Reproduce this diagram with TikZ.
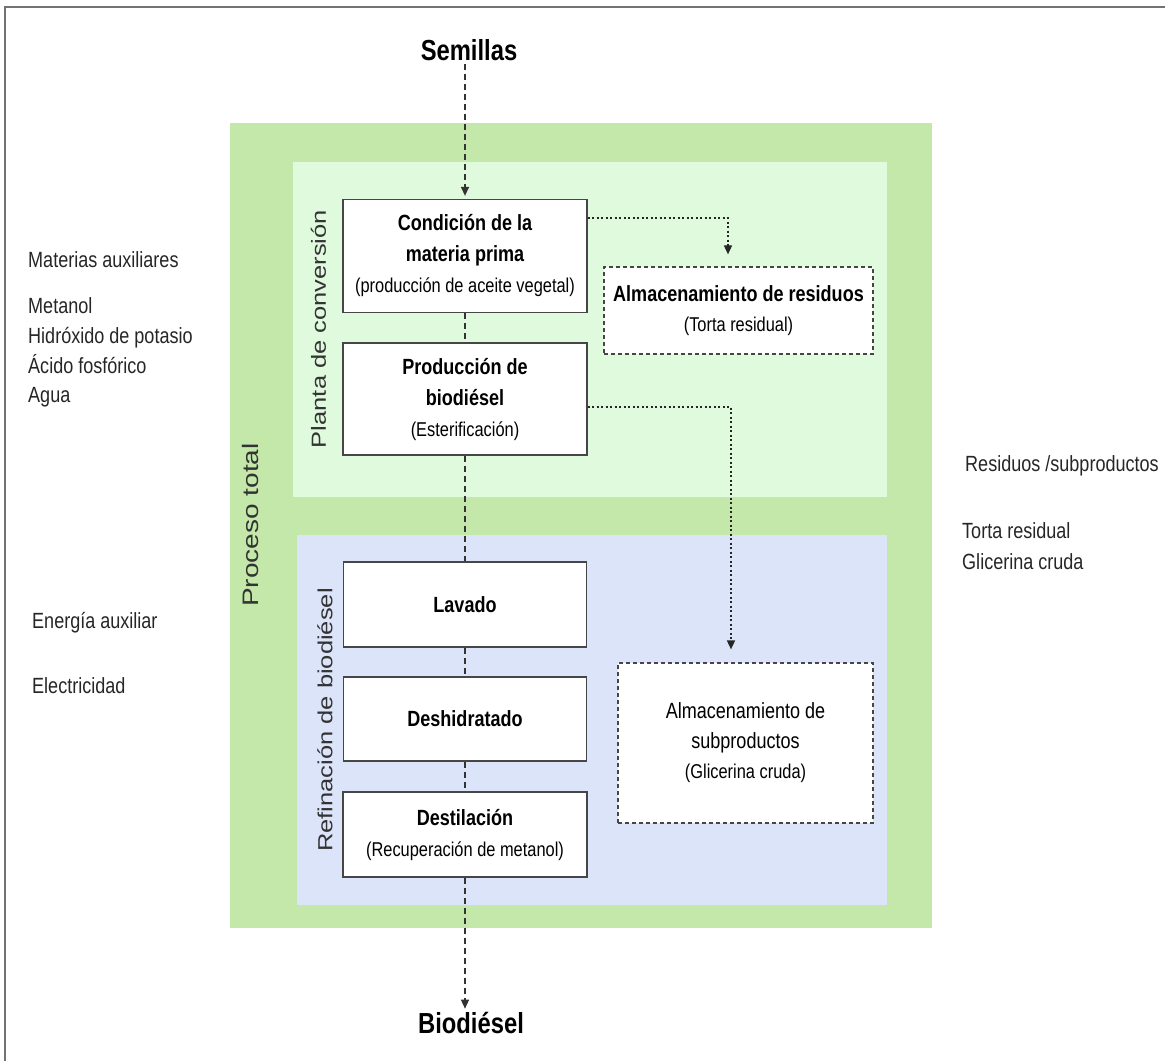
\documentclass[tikz,border=0pt]{standalone}
\usepackage{fontspec}
\setmainfont[FakeStretch=0.82]{Liberation Sans}
\newfontfamily\rotfont{Liberation Sans}
\usetikzlibrary{arrows.meta,calc}
\definecolor{outergreen}{RGB}{195,232,170}
\definecolor{innergreen}{RGB}{224,250,222}
\definecolor{innerblue}{RGB}{220,228,250}
\definecolor{boxline}{RGB}{70,70,70}
\newcommand\mysub[1]{{\mdseries\fontsize{20}{31}\selectfont #1}}
\tikzset{
 stepbox/.style={draw=boxline, line width=1.3pt, fill=white, inner sep=0pt, align=center,
   font=\fontsize{22}{31}\selectfont\bfseries},
 storebox/.style={draw=boxline, line width=1.2pt, dash pattern=on 4pt off 3pt, fill=white,
   inner sep=0pt, align=center, font=\fontsize{22}{30}\selectfont},
 sidetext/.style={anchor=base west, inner sep=0pt, font=\fontsize{22}{24}\selectfont, text=black!85},
 bigtext/.style={font=\fontsize{29}{32}\selectfont\bfseries},
 flowline/.style={draw=black!80, line width=1.3pt, dash pattern=on 6pt off 4pt},
 dotflow/.style={draw=black!85, line width=1.6pt, dash pattern=on 2pt off 2.5pt},
 tip/.style={-{Triangle[length=9pt,width=8pt]}},
 rotlabel/.style={rotate=90, inner sep=0pt, text=black!80},
}
\begin{document}
\begin{tikzpicture}[x=1pt,y=-1pt]
\useasboundingbox (0,0) rectangle (1165,1061);
% frame
\draw[black!55, line width=2.5pt] (5,1061) -- (5,7) -- (1165,7);
% regions
\fill[outergreen] (230,123) rectangle (932,928);
\fill[innergreen] (293,162) rectangle (887,497);
\fill[innerblue] (297,535) rectangle (887,905);
% rotated labels
\node[rotlabel, font=\rotfont\fontsize{28}{30}\selectfont] (ptot) at (250,525) {\scalebox{1}[0.8]{Proceso total}};
\node[rotlabel, font=\rotfont\fontsize{25.5}{30}\selectfont] (pconv) at (318.5,329) {\scalebox{1}[0.8]{Planta de conversión}};
\node[rotlabel, font=\rotfont\fontsize{25.5}{30}\selectfont] (pref) at (325,720) {\scalebox{1}[0.8]{Refinación de biodiésel}};
% main texts
\node[bigtext] (sem) at (469,50) {Semillas};
\node[bigtext] (bio) at (471,1023) {Biodiésel};
% boxes
\node[stepbox, minimum width=244pt, minimum height=113pt] (cond) at (465,256)
  {Condición de la\\materia prima\\\mysub{(producción de aceite vegetal)}};
\node[stepbox, minimum width=244pt, minimum height=112pt] (prod) at (465,399)
  {Producción de\\biodiésel\\\mysub{(Esterificación)}};
\node[stepbox, minimum width=243pt, minimum height=85pt] (lav) at (465,604.5) {Lavado};
\node[stepbox, minimum width=243pt, minimum height=84pt] (desh) at (465,719) {Deshidratado};
\node[stepbox, minimum width=244pt, minimum height=85pt] (dest) at (465,834.5)
  {Destilación\\\mysub{(Recuperación de metanol)}};
\node[storebox, minimum width=269pt, minimum height=87pt] (resid) at (738.5,310.5)
  {\textbf{Almacenamiento de residuos}\\\mysub{(Torta residual)}};
\node[storebox, minimum width=255pt, minimum height=160pt] (subp) at (745.5,743)
  {Almacenamiento de\\subproductos\\\mysub{(Glicerina cruda)}};
% side texts (baselines)
\node[sidetext] (maux) at (28,267) {Materias auxiliares};
\node[sidetext] (met) at (28,313) {Metanol};
\node[sidetext] (hid) at (28,343) {Hidróxido de potasio};
\node[sidetext] (aci) at (28,373) {Ácido fosfórico};
\node[sidetext] (agu) at (28,402) {Agua};
\node[sidetext] (eaux) at (32,628) {Energía auxiliar};
\node[sidetext] (elec) at (32,693) {Electricidad};
\node[sidetext] (rsub) at (965,471) {Residuos /subproductos};
\node[sidetext] (tor) at (962,538) {Torta residual};
\node[sidetext] (gli) at (962,569) {Glicerina cruda};
% connectors
\draw[flowline, tip, shorten >=3pt] (cond.north |- sem.south) -- (cond.north);
\draw[flowline] (cond) -- (prod);
\draw[flowline] (prod) -- (lav);
\draw[flowline] (lav) -- (desh);
\draw[flowline] (desh) -- (dest);
\draw[flowline, tip] (dest.south) -- (dest.south |- bio.north);
\draw[dotflow, tip, shorten >=12pt] ([yshift=-19pt]cond.north east) -| ([xshift=-10.5pt]resid.north);
\draw[dotflow, tip, shorten >=13pt] ([yshift=-8pt]prod.east) -| ([xshift=-14.5pt]subp.north);
\end{tikzpicture}
\end{document}
